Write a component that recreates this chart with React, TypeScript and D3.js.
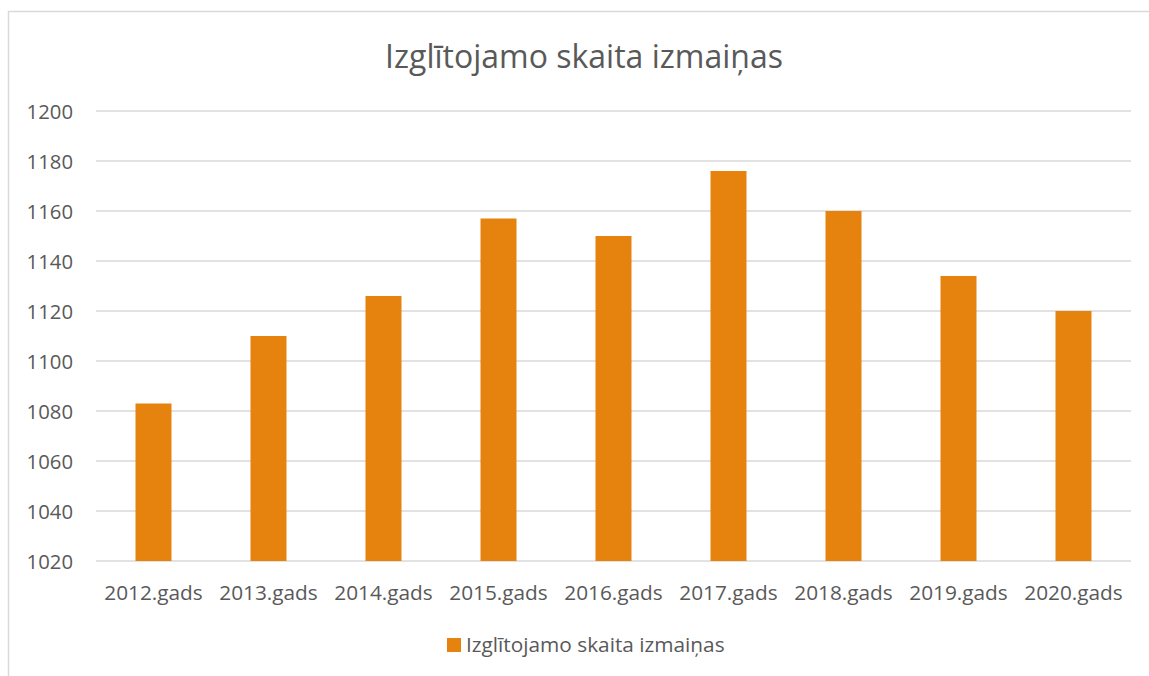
import * as d3 from 'd3'

const years = ['2012.gads', '2013.gads', '2014.gads', '2015.gads', '2016.gads', '2017.gads', '2018.gads', '2019.gads', '2020.gads']
const counts = [1083, 1110, 1126, 1157, 1150, 1176, 1160, 1134, 1120]
const yTicks = [1020, 1040, 1060, 1080, 1100, 1120, 1140, 1160, 1180, 1200]
const title = 'Izglītojamo skaita izmaiņas'
const seriesName = 'Izglītojamo skaita izmaiņas'

const W = 1149
const H = 676
const BAR = '#E6830F'
const TEXT = '#595959'
const GRID = '#D9D9D9'
const FONT = '"Open Sans", sans-serif'

export default function App() {
  const x = d3.scaleBand<string>().domain(years).range([96, 1131]).paddingInner(0.687).paddingOuter(0.3435)
  const y = d3.scaleLinear().domain([1020, 1200]).range([561, 111])

  return (
    <svg width={W} height={H} style={{ position: 'absolute', left: 0, top: 0, background: '#fff' }} fontFamily={FONT}>
      <rect x={8.5} y={11.5} width={W + 20} height={H + 20} fill="#fff" stroke={GRID} strokeWidth={1.5} />
      <text x={584} y={67.5} textAnchor="middle" fontSize={32} fill={TEXT}>{title}</text>

      {yTicks.map((t) => (
        <g key={t}>
          <line x1={96} x2={1131} y1={y(t)} y2={y(t)} stroke={GRID} strokeWidth={1.5} />
          <text x={73} y={y(t) + 7.5} textAnchor="end" fontSize={20.3} fill={TEXT}>{t}</text>
        </g>
      ))}

      {years.map((yr, i) => (
        <rect key={yr} x={x(yr)} y={y(counts[i])} width={x.bandwidth()} height={y(1020) - y(counts[i])} fill={BAR} />
      ))}

      {years.map((yr) => (
        <text key={yr} x={(x(yr) ?? 0) + x.bandwidth() / 2} y={600} textAnchor="middle" fontSize={20.8} fill={TEXT}>{yr}</text>
      ))}

      <rect x={447} y={638} width={14} height={14} fill={BAR} />
      <text x={466} y={652} fontSize={20.8} fill={TEXT}>{seriesName}</text>
    </svg>
  )
}
